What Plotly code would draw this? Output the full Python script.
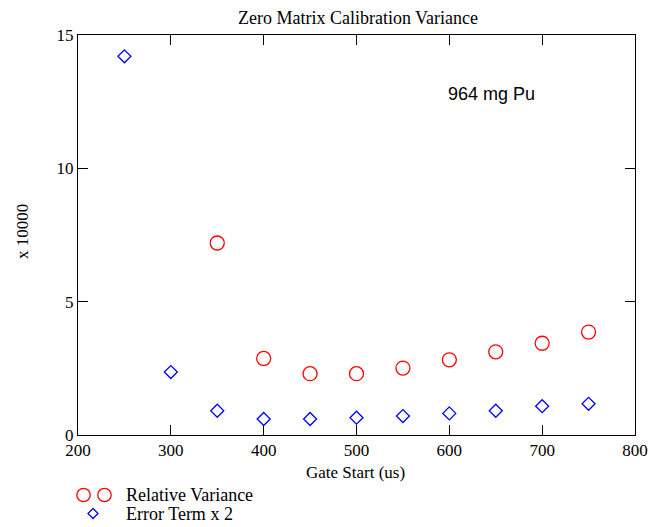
import plotly.graph_objects as go

gate_start_rv = [350, 400, 450, 500, 550, 600, 650, 700, 750]
relative_variance = [7.2, 2.87, 2.3, 2.3, 2.51, 2.82, 3.12, 3.44, 3.86]

gate_start_et = [250, 300, 350, 400, 450, 500, 550, 600, 650, 700, 750]
error_term_x2 = [14.2, 2.36, 0.91, 0.6, 0.6, 0.65, 0.71, 0.81, 0.91, 1.08, 1.17]

x_ticks = [200, 300, 400, 500, 600, 700, 800]
y_ticks = [0, 5, 10, 15]

serif = "Liberation Serif, Times New Roman, serif"
sans = "Liberation Sans, Arial, sans-serif"

fig = go.Figure()
fig.add_trace(go.Scatter(
    x=gate_start_rv, y=relative_variance, mode="markers", name="Relative Variance",
    marker=dict(symbol="circle-open", size=14, color="#ff0000", line=dict(width=1.3, color="#ff0000")),
    cliponaxis=False))
fig.add_trace(go.Scatter(
    x=gate_start_et, y=error_term_x2, mode="markers", name="Error Term x 2",
    marker=dict(symbol="diamond-open", size=10, color="#0000ff", line=dict(width=1.3, color="#0000ff")),
    cliponaxis=False))

W, H = 649, 527
L, R, T, B = 78, 14, 35, 92

axis_common = dict(showgrid=False, zeroline=False, showline=True, linecolor="black", linewidth=1,
                   ticks="inside", ticklen=10, tickcolor="black", tickwidth=1, mirror="ticks",
                   automargin=False,
                   tickfont=dict(family=serif, size=17, color="black"))

fig.update_layout(
    width=W, height=H,
    margin=dict(l=L, r=R, t=T, b=B, autoexpand=False),
    paper_bgcolor="white", plot_bgcolor="white",
    showlegend=False,
    title=dict(text="Zero Matrix Calibration Variance", x=358 / W, xanchor="center", y=1 - 18 / H, yanchor="middle",
               font=dict(family=serif, size=18, color="black")),
    xaxis=dict(range=[200, 800], tickvals=x_ticks, **axis_common),
    yaxis=dict(range=[0, 15], tickvals=y_ticks, **axis_common),
)

def px_to_paper(px, py):
    return (px - L) / (W - L - R), (H - B - py) / (H - T - B)

# axis titles
ax, ay = px_to_paper(355, 472)
fig.add_annotation(text="Gate Start (us)", xref="paper", yref="paper", x=ax, y=ay, showarrow=False,
                   xanchor="center", yanchor="middle", font=dict(family=serif, size=17, color="black"))
ax, ay = px_to_paper(22, 232)
fig.add_annotation(text="x 10000", xref="paper", yref="paper", x=ax, y=ay, showarrow=False, textangle=-90,
                   xanchor="center", yanchor="middle", font=dict(family=serif, size=17, color="black"))

fig.add_annotation(text="964 mg Pu", xref="x", yref="y", x=645, y=12.8, showarrow=False,
                   xanchor="center", yanchor="middle",
                   font=dict(family=sans, size=18, color="black"))

# manual legend (paper coordinates, below the plot)
def circle(cx, cy, r, color):
    x0, y0 = px_to_paper(cx - r, cy + r)
    x1, y1 = px_to_paper(cx + r, cy - r)
    fig.add_shape(type="circle", xref="paper", yref="paper", x0=x0, y0=y0, x1=x1, y1=y1,
                  line=dict(color=color, width=1.3))

def diamond(cx, cy, r, color):
    pts = [px_to_paper(cx, cy - r), px_to_paper(cx + r, cy), px_to_paper(cx, cy + r), px_to_paper(cx - r, cy)]
    path = "M {} {} L {} {} L {} {} L {} {} Z".format(*[v for p in pts for v in p])
    fig.add_shape(type="path", xref="paper", yref="paper", path=path, line=dict(color=color, width=1.3))

circle(83.5, 495, 6.7, "#ff0000")
circle(104.5, 495, 6.7, "#ff0000")
diamond(93, 513.5, 5, "#0000ff")

for label, py in [("Relative Variance", 495), ("Error Term x 2", 514)]:
    ax, ay = px_to_paper(124, py)
    fig.add_annotation(text=label, xref="paper", yref="paper", x=ax, y=ay, showarrow=False,
                       xanchor="left", yanchor="middle", font=dict(family=serif, size=18, color="black"))

fig.write_html("out.html")
